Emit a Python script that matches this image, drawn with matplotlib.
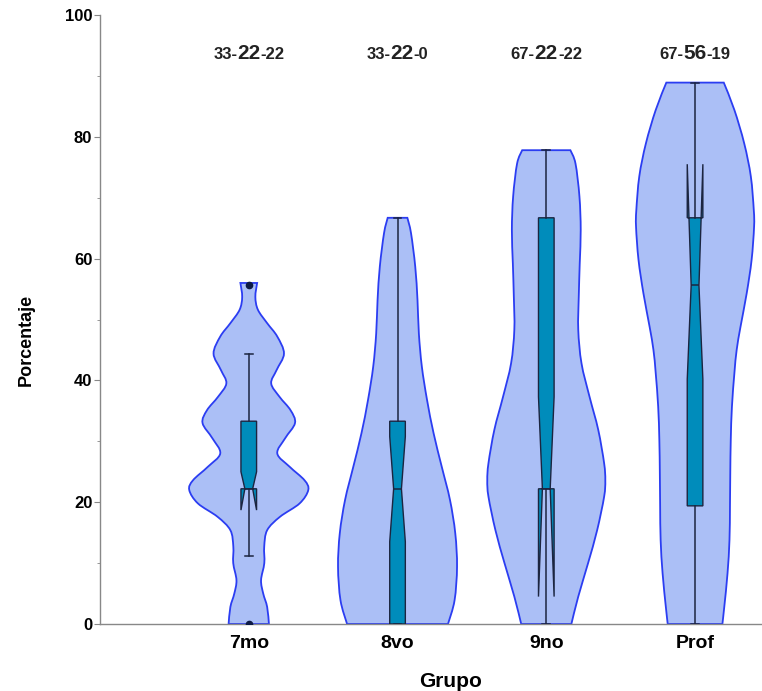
import numpy as np
import matplotlib
matplotlib.use('Agg')
import matplotlib.pyplot as plt
from matplotlib.path import Path
from matplotlib.patches import PathPatch
from matplotlib.offsetbox import TextArea, HPacker, AnnotationBbox

plt.rcParams['font.family'] = ['Liberation Sans', 'DejaVu Sans']

grupos = ['7mo', '8vo', '9no', 'Prof']

# violin outlines: level (%) and half-width (px, widest ~60)
lev_7mo = [56.0, 53.7, 51.6, 49.4, 47.2, 44.4, 41.7, 39.5, 37.3, 35.1, 33.0, 30.5, 28.0,
           25.8, 23.6, 22.0, 19.8, 17.6, 15.4, 12.7, 10.0, 7.2, 5.0, 2.8, 0.0]
den_7mo = [8.5, 6.7, 9.3, 18.7, 29.0, 35.8, 28.3, 22.8, 31.3, 42.5, 47.0, 37.0, 29.0,
           41.7, 56.7, 60.5, 51.7, 31.7, 18.7, 15.7, 15.8, 12.5, 14.7, 18.7, 20.5]
lev_8vo = [66.7, 64.2, 58.7, 53.2, 47.7, 42.3, 36.8, 31.3, 25.8, 20.4, 14.9, 9.4, 3.9, 0.0]
den_8vo = [10.0, 13.7, 18.0, 20.3, 21.7, 24.7, 30.0, 36.7, 45.0, 53.3, 58.7, 60.5, 58.0, 51.3]
lev_9no = [77.8, 75.6, 70.2, 64.7, 59.2, 53.7, 48.3, 42.8, 37.3, 31.9, 26.4, 23.6, 20.9,
           15.4, 10.0, 4.5, 0.0]
den_9no = [24.5, 29.7, 33.7, 35.0, 34.0, 33.0, 32.5, 35.8, 44.0, 52.8, 58.8, 60.0, 58.8,
           51.7, 42.5, 32.5, 25.5]
lev_prof = [88.9, 84.4, 78.9, 73.5, 68.0, 65.2, 59.8, 54.3, 48.8, 45.0, 41.2, 35.7, 30.2,
            24.7, 19.3, 13.8, 8.3, 2.8, 0.0]
den_prof = [29.2, 40.0, 50.0, 56.7, 59.7, 60.0, 57.5, 52.5, 46.2, 42.3, 40.0, 37.5, 36.3,
            35.8, 35.5, 35.0, 33.0, 29.7, 27.8]

# box stats
q1 = [22.2, 0.0, 22.2, 19.4]
med = [22.2, 22.2, 22.2, 55.6]
q3 = [33.3, 33.3, 66.7, 66.7]
whislo = [11.1, 0.0, 0.0, 0.0]
whishi = [44.4, 66.7, 77.8, 88.9]
cilo = [18.7, 13.5, 4.5, 40.2]
cihi = [25.0, 30.8, 37.3, 75.5]
fliers = [[0.0, 55.6], [], [], []]

# label over each violin: q3 - median - q1
etiq = [('33-', '22', '-22'), ('33-', '22', '-0'), ('67-', '22', '-22'), ('67-', '56', '-19')]

violin_fill = '#abbff6'
violin_edge = '#2b3df2'
box_fill = '#008cbb'
dark = '#1c2540'


def curve(pts):
    # smooth cubic curve through the outline points
    pts = np.asarray(pts, dtype=float)
    ext = np.vstack([pts[0], pts, pts[-1]])
    verts = [pts[0]]
    codes = [Path.MOVETO]
    for i in range(1, len(ext) - 2):
        p0, p1, p2, p3 = ext[i - 1], ext[i], ext[i + 1], ext[i + 2]
        verts += [p1 + (p2 - p0) / 6, p2 - (p3 - p1) / 6, p2]
        codes += [Path.CURVE4] * 3
    return verts, codes


fig = plt.figure(figsize=(7.62, 6.91), dpi=100)
ax = fig.add_axes([100/762, 67/691, 662/762, 609/691])

pos = [1, 2, 3, 4]
levels = [lev_7mo, lev_8vo, lev_9no, lev_prof]
dens = [den_7mo, den_8vo, den_9no, den_prof]
for p, y, d in zip(pos, levels, dens):
    y = np.array(y)
    hw = 0.4 * np.array(d) / 60.5
    vr, cr = curve(np.column_stack([p + hw, y]))
    vl, cl = curve(np.column_stack([p - hw, y])[::-1])
    cl[0] = Path.LINETO
    verts = vr + vl + [vr[0]]
    codes = cr + cl + [Path.CLOSEPOLY]
    ax.add_patch(PathPatch(Path(verts, codes), facecolor=violin_fill, edgecolor=violin_edge,
                           linewidth=1.3, zorder=1))

stats = []
for i in range(4):
    stats.append(dict(med=med[i], q1=q1[i], q3=q3[i], whislo=whislo[i], whishi=whishi[i],
                      cilo=cilo[i], cihi=cihi[i], fliers=fliers[i]))

ax.bxp(stats, positions=pos, widths=0.105, shownotches=True, patch_artist=True,
       manage_ticks=False, zorder=3,
       boxprops=dict(facecolor=box_fill, edgecolor=dark, linewidth=1.0),
       whiskerprops=dict(color=dark, linewidth=1.1),
       capprops=dict(color=dark, linewidth=1.1),
       medianprops=dict(color=dark, linewidth=1.1),
       flierprops=dict(marker='o', markersize=4.5, markerfacecolor='#0d1a45',
                       markeredgecolor='#0d1a45'))

for p, (a, b, c) in zip(pos, etiq):
    parts = [TextArea(a, textprops=dict(fontsize=12, fontweight='bold', color='#222222')),
             TextArea(b, textprops=dict(fontsize=15, fontweight='bold', color='#222222')),
             TextArea(c, textprops=dict(fontsize=12, fontweight='bold', color='#222222'))]
    pack = HPacker(children=parts, align='baseline', pad=0, sep=0)
    ab = AnnotationBbox(pack, (p, 93.6), xycoords='data', frameon=False,
                        box_alignment=(0.5, 0.5))
    ax.add_artist(ab)

ax.set_xlim(0, 4.45)
ax.set_ylim(0, 100)
ax.set_yticks([0, 20, 40, 60, 80, 100])
ax.set_yticks([10, 30, 50, 70, 90], minor=True)
ax.set_xticks(pos)
ax.set_xticklabels(grupos, fontsize=14, fontweight='bold')
for lab in ax.get_yticklabels():
    lab.set_fontweight('bold')
ax.tick_params(axis='y', which='major', length=4, color='#888888', labelsize=12, pad=1.5)
ax.tick_params(axis='y', which='minor', length=2.5, color='#888888')
ax.tick_params(axis='x', length=0, pad=8)

for s in ['top', 'right']:
    ax.spines[s].set_visible(False)
for s in ['left', 'bottom']:
    ax.spines[s].set_color('#888888')
    ax.spines[s].set_linewidth(1.0)

ax.set_ylabel('Porcentaje', fontsize=13, fontweight='bold')
ax.yaxis.set_label_coords(-0.098, 0.466)
ax.set_xlabel('Grupo', fontsize=15, fontweight='bold')
ax.xaxis.set_label_coords(0.529, -0.078)

plt.savefig('out.png', dpi=100)
